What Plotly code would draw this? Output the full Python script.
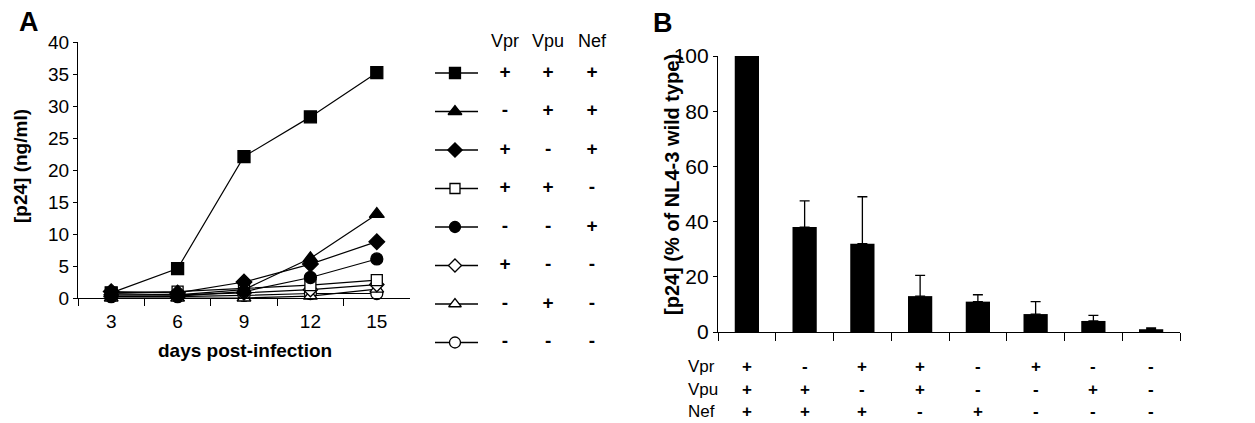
import plotly.graph_objects as go

W, H = 1255, 423
FONT = "Liberation Sans, Arial, sans-serif"

# ---------------- Panel A data ----------------
days = ["3", "6", "9", "12", "15"]
wt_all = [0.8, 4.6, 22.1, 28.3, 35.2]          # filled square  (+ + +)
no_vpr = [0.7, 0.5, 1.3, 6.2, 13.1]            # filled triangle (- + +)
no_vpu = [1.0, 0.8, 2.5, 5.3, 8.8]             # filled diamond (+ - +)
no_nef = [0.8, 1.0, 1.5, 2.0, 2.8]             # open square (+ + -)
nef_only = [0.3, 0.3, 1.0, 3.2, 6.1]           # filled circle (- - +)
vpr_only = [0.5, 0.5, 0.8, 1.3, 2.1]           # open diamond (+ - -)
vpu_only = [0.0, 0.0, 0.0, 0.3, 1.4]           # open triangle (- + -)
none_all = [0.2, 0.2, 0.4, 0.7, 0.7]           # open circle (- - -)

series_vals = [wt_all, no_vpr, no_vpu, no_nef, nef_only, vpr_only, vpu_only, none_all]
series_symbols = ["square", "triangle-up", "diamond", "square-open", "circle",
                  "diamond-open", "triangle-up-open", "circle-open"]
series_sizes = [12, 13, 12, 11, 12, 11, 12, 12]
legend_vpr = ["+", "-", "+", "+", "-", "+", "-", "-"]
legend_vpu = ["+", "+", "-", "+", "-", "-", "+", "-"]
legend_nef = ["+", "+", "+", "-", "+", "-", "-", "-"]
legend_headers = ["Vpr", "Vpu", "Nef"]

# ---------------- Panel B data ----------------
mutants = ["wt", "dVpr", "dVpu", "dNef", "dVprVpu", "dVpuNef", "dVprNef", "dAll"]
pct_wt = [100, 38, 32, 13, 11, 6.5, 4, 1]
pct_err = [0, 9.5, 17, 7.5, 2.5, 4.5, 2, 0.5]
b_vpr = ["+", "-", "+", "+", "-", "+", "-", "-"]
b_vpu = ["+", "+", "-", "+", "-", "-", "+", "-"]
b_nef = ["+", "+", "+", "-", "+", "-", "-", "-"]
b_row_labels = ["Vpr", "Vpu", "Nef"]


def px_x(p):
    return p / W


def px_y(p):
    return 1 - p / H


def ann(x, y, text, size, bold=False, angle=0, xanchor="center", xref="paper"):
    fig.add_annotation(x=x, y=y, xref=xref, yref="paper", text=text,
                       showarrow=False, textangle=angle,
                       xanchor=xanchor, yanchor="middle",
                       font=dict(family=FONT, size=size, color="black",
                                 weight="bold" if bold else "normal"))


fig = go.Figure()

# Panel A lines
order = [7, 6, 5, 3, 4, 2, 1, 0]
for i in order:
    sym = series_symbols[i]
    is_open = sym.endswith("-open")
    fig.add_trace(go.Scatter(
        x=days, y=series_vals[i], mode="lines+markers",
        line=dict(color="black", width=1.2),
        marker=dict(symbol=sym.replace("-open", ""), size=series_sizes[i],
                    color="white" if is_open else "black",
                    line=dict(color="black", width=1.3)),
        xaxis="x", yaxis="y", showlegend=False, cliponaxis=False,
    ))

# Legend table for panel A (hidden axis x3/y3)
n_rows = len(series_symbols)
rows = list(range(n_rows))
for i in rows:
    sym = series_symbols[i]
    is_open = sym.endswith("-open")
    fig.add_trace(go.Scatter(
        x=[0, 0.239], y=[i, i], mode="lines",
        line=dict(color="black", width=1.7 if i in (1, 6) else 1.3),
        xaxis="x3", yaxis="y3", showlegend=False, hoverinfo="skip"))
    fig.add_trace(go.Scatter(
        x=[0.111], y=[i], mode="markers",
        marker=dict(symbol=sym.replace("-open", ""), size=series_sizes[i] - 1,
                    color="white" if is_open else "black",
                    line=dict(color="black", width=1.3)),
        xaxis="x3", yaxis="y3", showlegend=False, cliponaxis=False))

col_x = [0.389, 0.628, 0.872]
for cx, col in zip(col_x, [legend_vpr, legend_vpu, legend_nef]):
    fig.add_trace(go.Scatter(
        x=[cx] * n_rows, y=rows, mode="text", text=col,
        textfont=dict(family=FONT, size=19, color="black", weight="bold"),
        xaxis="x3", yaxis="y3", showlegend=False, cliponaxis=False))
fig.add_trace(go.Scatter(
    x=col_x, y=[-0.78] * 3, mode="text", text=legend_headers,
    textfont=dict(family=FONT, size=18, color="black"),
    xaxis="x3", yaxis="y3", showlegend=False, cliponaxis=False))

# Panel B bars
fig.add_trace(go.Bar(
    x=mutants, y=pct_wt, width=0.42,
    marker=dict(color="black", line=dict(color="black", width=0)),
    error_y=dict(type="data", array=pct_err, arrayminus=[0] * len(pct_err),
                 symmetric=False, color="black", thickness=1.3, width=5,
                 visible=True),
    xaxis="x2", yaxis="y2", showlegend=False))

# Panel B table rows
row_y = [366, 389, 411]
for ry, col in zip(row_y, [b_vpr, b_vpu, b_nef]):
    for m, s in zip(mutants, col):
        ann(m, px_y(ry), s, 17, bold=True, xref="x2")
for ry, lab in zip(row_y, b_row_labels):
    ann(px_x(686), px_y(ry), lab, 17, xanchor="left")

# Titles / labels
ann(px_x(17), px_y(22), "A", 27, bold=True, xanchor="left")
ann(px_x(651), px_y(23), "B", 27, bold=True, xanchor="left")
ann(px_x(20), px_y(166), "[p24] (ng/ml)", 19, bold=True, angle=-90)
ann(px_x(245), px_y(350), "days post-infection", 19, bold=True)
ann(px_x(672), px_y(185), "[p24] (% of NL4-3 wild type)", 20, bold=True, angle=-90)

axis_common = dict(showgrid=False, zeroline=False, showline=True,
                   linecolor="black", linewidth=1.2, ticks="outside",
                   tickcolor="black", tickwidth=1.2,
                   tickfont=dict(family=FONT, size=19, color="black"))

fig.update_layout(
    width=W, height=H,
    margin=dict(l=0, r=0, t=0, b=0, pad=0, autoexpand=False),
    paper_bgcolor="white", plot_bgcolor="white",
    showlegend=False,
    xaxis=dict(axis_common, domain=[px_x(78), px_x(410)], anchor="y",
               type="category", range=[-0.5, 4.5], tickson="boundaries",
               ticklen=7, ticklabelstandoff=6, automargin=False),
    yaxis=dict(axis_common, domain=[px_y(298), px_y(42)], anchor="x",
               range=[0, 40], dtick=5, ticklen=4, automargin=False),
    xaxis2=dict(axis_common, domain=[px_x(718), px_x(1180)], anchor="y2",
                type="category", range=[-0.5, 7.5], tickson="boundaries",
                ticklen=8, showticklabels=False, automargin=False),
    yaxis2=dict(axis_common, domain=[px_y(332), px_y(56)], anchor="x2",
                range=[0, 100], dtick=20, ticklen=4, automargin=False,
                tickfont=dict(family=FONT, size=21, color="black")),
    xaxis3=dict(domain=[px_x(435), px_x(615)], anchor="y3", range=[0, 1],
                visible=False, fixedrange=True),
    yaxis3=dict(domain=[px_y(381), px_y(15.25)], anchor="x3", range=[8, -1.5],
                visible=False, fixedrange=True),
)

fig.write_html("out.html", config={"displayModeBar": False},
               post_script="document.body.style.margin='0px';document.body.style.overflow='hidden';")
